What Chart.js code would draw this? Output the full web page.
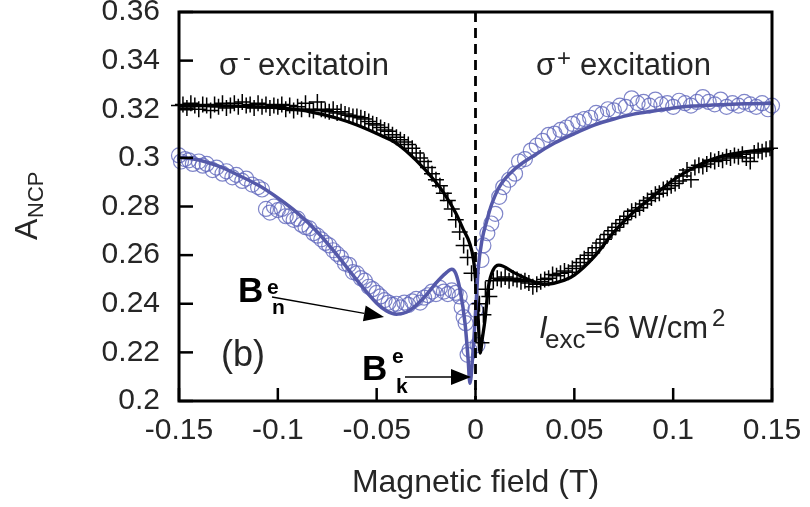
<!DOCTYPE html>
<html><head><meta charset="utf-8">
<script src="https://cdn.jsdelivr.net/npm/chart.js@4"></script>
<style>html,body{margin:0;padding:0;background:#fff}</style>
</head><body>
<canvas id="c" width="810" height="507"></canvas>
<script>
// ---- Data ----
const xTickValues = [-0.15, -0.1, -0.05, 0, 0.05, 0.1, 0.15];
const xTickLabels = ['-0.15', '-0.1', '-0.05', '0', '0.05', '0.1', '0.15'];
const yTickValues = [0.2, 0.22, 0.24, 0.26, 0.28, 0.3, 0.32, 0.34, 0.36];
const yTickLabels = ['0.2', '0.22', '0.24', '0.26', '0.28', '0.3', '0.32', '0.34', '0.36'];

// sigma- / sigma+ fit curve (blue)
const blueFitX = [-0.15,-0.14,-0.13,-0.12,-0.11,-0.10,-0.09,-0.08,-0.07,-0.06,-0.05,-0.045,-0.04,-0.035,-0.03,-0.025,-0.02,-0.015,-0.012,-0.010,-0.0078,-0.0053,-0.0038,-0.0028,-0.0013,0.0003,0.0013,0.0033,0.0058,0.008,0.012,0.02,0.03,0.04,0.05,0.06,0.07,0.08,0.09,0.10,0.11,0.12,0.13,0.14,0.15];
const blueFitY = [0.3003,0.2991,0.2966,0.2929,0.2888,0.2835,0.2773,0.2695,0.2600,0.2497,0.2402,0.2370,0.2357,0.2365,0.2394,0.2435,0.2485,0.2526,0.2542,0.2525,0.2456,0.2320,0.2180,0.2073,0.2200,0.2402,0.2538,0.2662,0.2744,0.2805,0.2880,0.2955,0.3012,0.3061,0.3100,0.3135,0.3160,0.3180,0.3193,0.3205,0.3213,0.3217,0.3221,0.3223,0.3225];

// fit curve (black)
const blackFitX = [-0.15,-0.13,-0.11,-0.09,-0.08,-0.07,-0.06,-0.05,-0.04,-0.03,-0.02,-0.015,-0.01,-0.006,-0.003,-0.001,0.0005,0.0014,0.0023,0.0035,0.0048,0.0065,0.009,0.0118,0.02,0.03,0.035,0.045,0.05,0.06,0.07,0.08,0.09,0.10,0.11,0.12,0.13,0.14,0.15];
const blackFitY = [0.3215,0.3214,0.3210,0.3198,0.3183,0.3163,0.3135,0.3100,0.3060,0.2990,0.2900,0.2843,0.2773,0.2703,0.2650,0.2580,0.2450,0.2333,0.2197,0.2260,0.2333,0.2468,0.2540,0.2559,0.2526,0.2489,0.2480,0.2497,0.2518,0.2593,0.2695,0.2777,0.2843,0.2909,0.2958,0.2995,0.3016,0.3028,0.3036];

// open circles (blue)
const circleX = [-0.150,-0.149,-0.147,-0.145,-0.143,-0.140,-0.138,-0.136,-0.133,-0.131,-0.128,-0.126,-0.123,-0.121,-0.118,-0.116,-0.113,-0.110,-0.108,-0.106,-0.104,-0.102,-0.100,-0.098,-0.096,-0.094,-0.092,-0.090,-0.088,-0.086,-0.084,-0.082,-0.080,-0.078,-0.076,-0.074,-0.072,-0.070,-0.068,-0.066,-0.064,-0.062,-0.060,-0.058,-0.056,-0.054,-0.052,-0.050,-0.048,-0.046,-0.044,-0.042,-0.040,-0.038,-0.036,-0.034,-0.032,-0.030,-0.028,-0.026,-0.024,-0.022,-0.020,-0.018,-0.016,-0.014,-0.012,-0.010,-0.008,-0.007,-0.006,-0.005,-0.004,-0.003,
  0.000,0.001,0.003,0.004,0.006,0.008,0.010,0.012,0.014,0.017,0.020,0.022,0.025,0.028,0.031,0.034,0.037,0.040,0.043,0.046,0.049,0.052,0.055,0.058,0.061,0.064,0.067,0.070,0.073,0.076,0.079,0.082,0.085,0.088,0.091,0.094,0.097,0.100,0.103,0.106,0.109,0.112,0.115,0.118,0.121,0.124,0.127,0.130,0.133,0.136,0.139,0.142,0.145,0.148,0.150];
const circleY = [0.3010,0.2985,0.2995,0.2990,0.2975,0.2985,0.2968,0.2975,0.2950,0.2960,0.2935,0.2945,0.2920,0.2930,0.2905,0.2915,0.2890,0.2880,0.2870,0.2790,0.2775,0.2800,0.2785,0.2790,0.2760,0.2760,0.2745,0.2750,0.2725,0.2715,0.2710,0.2690,0.2680,0.2665,0.2650,0.2640,0.2620,0.2605,0.2590,0.2565,0.2560,0.2530,0.2525,0.2505,0.2495,0.2470,0.2460,0.2445,0.2430,0.2415,0.2405,0.2395,0.2400,0.2385,0.2405,0.2395,0.2410,0.2420,0.2405,0.2425,0.2435,0.2450,0.2440,0.2465,0.2450,0.2440,0.2455,0.2445,0.2430,0.2385,0.2345,0.2320,0.2190,0.2210,
  0.2375,0.2230,0.2580,0.2640,0.2690,0.2730,0.2770,0.2840,0.2880,0.2910,0.2935,0.2985,0.2995,0.3030,0.3050,0.3070,0.3095,0.3100,0.3115,0.3125,0.3140,0.3150,0.3160,0.3165,0.3185,0.3180,0.3200,0.3195,0.3215,0.3210,0.3245,0.3225,0.3230,0.3215,0.3240,0.3220,0.3225,0.3210,0.3235,0.3225,0.3215,0.3230,0.3250,0.3230,0.3220,0.3240,0.3210,0.3225,0.3215,0.3230,0.3220,0.3210,0.3225,0.3200,0.3215];

// crosses (black)
const crossX = [-0.150,-0.148,-0.146,-0.144,-0.142,-0.140,-0.138,-0.136,-0.134,-0.132,-0.130,-0.128,-0.126,-0.124,-0.122,-0.120,-0.118,-0.116,-0.114,-0.112,-0.110,-0.108,-0.106,-0.104,-0.102,-0.100,-0.098,-0.096,-0.094,-0.092,-0.090,-0.088,-0.086,-0.084,-0.082,-0.080,-0.078,-0.076,-0.074,-0.072,-0.070,-0.068,-0.066,-0.064,-0.062,-0.060,-0.058,-0.056,-0.054,-0.052,-0.050,-0.048,-0.046,-0.044,-0.042,-0.040,-0.038,-0.036,-0.034,-0.032,-0.030,-0.028,-0.026,-0.024,-0.022,-0.020,-0.018,-0.016,-0.014,-0.012,-0.010,-0.008,-0.006,-0.004,-0.002,
  0.002,0.003,0.004,0.005,0.007,0.009,0.011,0.013,0.015,0.017,0.019,0.021,0.023,0.025,0.027,0.029,0.031,0.033,0.035,0.037,0.039,0.041,0.043,0.045,0.047,0.049,0.051,0.053,0.055,0.057,0.059,0.061,0.063,0.065,0.067,0.069,0.071,0.073,0.075,0.077,0.079,0.081,0.083,0.085,0.087,0.089,0.091,0.093,0.095,0.097,0.099,0.101,0.103,0.105,0.107,0.109,0.111,0.113,0.115,0.117,0.119,0.121,0.123,0.125,0.127,0.129,0.131,0.133,0.135,0.137,0.139,0.141,0.143,0.145,0.147,0.149];
const crossY = [0.3215,0.3220,0.3205,0.3225,0.3215,0.3200,0.3220,0.3215,0.3195,0.3220,0.3210,0.3225,0.3205,0.3215,0.3225,0.3210,0.3230,0.3215,0.3220,0.3205,0.3225,0.3210,0.3220,0.3205,0.3215,0.3210,0.3220,0.3200,0.3215,0.3195,0.3210,0.3200,0.3225,0.3200,0.3195,0.3230,0.3200,0.3195,0.3190,0.3200,0.3185,0.3190,0.3180,0.3175,0.3170,0.3170,0.3165,0.3160,0.3150,0.3140,0.3135,0.3125,0.3115,0.3110,0.3095,0.3085,0.3075,0.3065,0.3055,0.3040,0.3020,0.3000,0.2985,0.2960,0.2935,0.2910,0.2885,0.2855,0.2825,0.2790,0.2745,0.2695,0.2640,0.2590,0.2525,
  0.2400,0.2240,0.2355,0.2460,0.2430,0.2495,0.2505,0.2500,0.2510,0.2495,0.2505,0.2500,0.2490,0.2495,0.2485,0.2470,0.2480,0.2490,0.2500,0.2505,0.2520,0.2515,0.2525,0.2535,0.2530,0.2545,0.2555,0.2570,0.2585,0.2600,0.2610,0.2630,0.2650,0.2665,0.2685,0.2700,0.2715,0.2730,0.2745,0.2760,0.2780,0.2785,0.2795,0.2810,0.2825,0.2835,0.2850,0.2855,0.2870,0.2875,0.2885,0.2895,0.2905,0.2925,0.2950,0.2910,0.2960,0.2970,0.2965,0.2975,0.2990,0.2985,0.2995,0.2990,0.3005,0.3000,0.3010,0.3005,0.3015,0.3000,0.2985,0.3020,0.3030,0.3025,0.3035,0.3040];

const pairs = (xs, ys) => xs.map((v, i) => ({x: v, y: ys[i]}));

const FONT = '"Liberation Sans", Arial, Helvetica, sans-serif';
const TXT = '#262626';

const decor = {
  id: 'decor',
  afterDatasetsDraw(chart) {
    const {ctx, chartArea: a, scales: {x, y}} = chart;
    ctx.save();
    // dashed zero line
    const x0 = x.getPixelForValue(0);
    ctx.strokeStyle = '#000';
    ctx.lineWidth = 2.8;
    ctx.setLineDash([10, 6]);
    ctx.beginPath(); ctx.moveTo(x0, a.top); ctx.lineTo(x0, a.bottom); ctx.stroke();
    ctx.setLineDash([]);
    // inner ticks
    ctx.lineWidth = 2.5;
    yTickValues.forEach(v => { const p = y.getPixelForValue(v); ctx.beginPath(); ctx.moveTo(a.left, p); ctx.lineTo(a.left + 14, p); ctx.stroke(); });
    xTickValues.forEach(v => { const p = x.getPixelForValue(v); ctx.beginPath(); ctx.moveTo(p, a.bottom); ctx.lineTo(p, a.bottom - 13); ctx.stroke(); });
    // frame
    ctx.lineWidth = 3;
    ctx.strokeRect(a.left, a.top, a.right - a.left, a.bottom - a.top);

    ctx.fillStyle = TXT;
    ctx.textAlign = 'left';
    ctx.textBaseline = 'alphabetic';
    // sigma- excitatoin
    ctx.font = '31px ' + FONT;
    ctx.fillText('σ', 219, 75);
    ctx.font = '24px ' + FONT;
    ctx.fillText('-', 243, 65);
    ctx.font = '31px ' + FONT;
    ctx.fillText('excitatoin', 258, 75);
    // sigma+ excitation
    ctx.fillText('σ', 536, 75);
    ctx.font = '24px ' + FONT;
    ctx.fillText('+', 557, 66);
    ctx.font = '31px ' + FONT;
    ctx.fillText('excitation', 580, 75);
    // (b)
    ctx.font = '36px ' + FONT;
    ctx.fillText('(b)', 221, 366);
    // I_exc = 6 W/cm^2
    ctx.font = 'italic 31px ' + FONT;
    ctx.fillText('I', 539, 338);
    ctx.font = '26px ' + FONT;
    ctx.fillText('exc', 545, 348);
    ctx.font = '31px ' + FONT;
    ctx.fillText('=6 W/cm', 585, 338);
    ctx.font = '24px ' + FONT;
    ctx.fillText('2', 712, 326);

    // B^e_n
    ctx.fillStyle = '#000';
    ctx.font = 'bold 35px ' + FONT;
    ctx.fillText('B', 238, 302);
    ctx.font = 'bold 21px ' + FONT;
    ctx.fillText('e', 267, 294);
    ctx.fillText('n', 272, 314);
    // B^e_k
    ctx.font = 'bold 35px ' + FONT;
    ctx.fillText('B', 362, 380);
    ctx.font = 'bold 21px ' + FONT;
    ctx.fillText('e', 392, 363);
    ctx.fillText('k', 396, 393);

    // arrows
    const arrow = (x1, y1, x2, y2) => {
      const ang = Math.atan2(y2 - y1, x2 - x1);
      const L = 20, W = 8;
      const bx = x2 - L * Math.cos(ang), by = y2 - L * Math.sin(ang);
      ctx.strokeStyle = '#000';
      ctx.lineWidth = 1.3;
      ctx.beginPath(); ctx.moveTo(x1, y1); ctx.lineTo(bx, by); ctx.stroke();
      ctx.beginPath();
      ctx.moveTo(x2, y2);
      ctx.lineTo(bx + W * Math.sin(ang), by - W * Math.cos(ang));
      ctx.lineTo(bx - W * Math.sin(ang), by + W * Math.cos(ang));
      ctx.closePath(); ctx.fill();
    };
    arrow(272, 297, 384, 317);
    arrow(405, 377, 471, 377);

    // y-axis title A_NCP
    ctx.fillStyle = TXT;
    ctx.translate(37, 240);
    ctx.rotate(-Math.PI / 2);
    ctx.font = '32px ' + FONT;
    ctx.fillText('A', 0, 0);
    ctx.font = '22px ' + FONT;
    ctx.fillText('NCP', 22, 6);
    ctx.restore();
  }
};

new Chart(document.getElementById('c'), {
  type: 'scatter',
  data: {
    datasets: [
      {label: 'fit σ', data: pairs(blueFitX, blueFitY), showLine: true, borderColor: '#5559a9', borderWidth: 3.5, pointRadius: 0, cubicInterpolationMode: 'monotone', order: 0},
      {label: 'fit', data: pairs(blackFitX, blackFitY), showLine: true, borderColor: '#000', borderWidth: 3.3, pointRadius: 0, cubicInterpolationMode: 'monotone', order: 1},
      {label: 'circles', data: pairs(circleX, circleY), showLine: false, pointStyle: 'circle', pointRadius: 7.5, borderWidth: 1.2, borderColor: 'rgba(95,102,188,0.8)', backgroundColor: 'rgba(0,0,0,0)', clip: false, order: 3},
      {label: 'crosses', data: pairs(crossX, crossY), showLine: false, pointStyle: 'cross', pointRadius: 8, borderWidth: 1.5, borderColor: '#000', clip: false, order: 2}
    ]
  },
  options: {
    responsive: false,
    animation: false,
    devicePixelRatio: 1,
    layout: {padding: {left: 0, right: 38, top: 12, bottom: 0}},
    plugins: {legend: {display: false}, tooltip: {enabled: false}},
    scales: {
      x: {
        type: 'linear', min: -0.15, max: 0.15,
        grid: {display: false, drawTicks: false},
        border: {display: false},
        afterBuildTicks: s => { s.ticks = xTickValues.map(v => ({value: v})); },
        ticks: {callback: (v, i) => xTickLabels[i], font: {size: 30, family: FONT}, color: TXT, padding: 12, maxRotation: 0, autoSkip: false},
        title: {display: true, text: 'Magnetic field (T)', font: {size: 32, family: FONT}, color: TXT, padding: {top: 0, bottom: 5}},
        afterFit: s => { s.height = 106; s.paddingLeft = 0; s.paddingRight = 0; }
      },
      y: {
        type: 'linear', min: 0.2, max: 0.36,
        grid: {display: false, drawTicks: false},
        border: {display: false},
        afterBuildTicks: s => { s.ticks = yTickValues.map(v => ({value: v})); },
        ticks: {callback: (v, i) => yTickLabels[i], font: {size: 30, family: FONT}, color: TXT, padding: 19, autoSkip: false},
        afterFit: s => { s.width = 179; s.paddingTop = 0; s.paddingBottom = 0; }
      }
    }
  },
  plugins: [decor]
});
</script>
</body></html>
